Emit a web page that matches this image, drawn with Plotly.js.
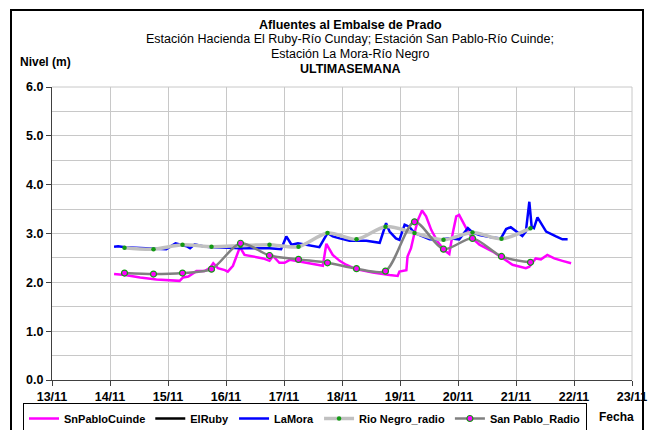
<!DOCTYPE html>
<html>
<head>
<meta charset="utf-8">
<script src="https://cdn.plot.ly/plotly-3.0.1.min.js"></script>
<style>html,body{margin:0;padding:0;background:#fff;}#chart{width:650px;height:430px;}</style>
</head>
<body>
<div id="chart"></div>
<script>
// Tick labels (days of November)
var dayVals = [13,14,15,16,17,18,19,20,21,22,23];
var dayLabels = ["13/11","14/11","15/11","16/11","17/11","18/11","19/11","20/11","21/11","22/11","23/11"];

// SnPabloCuinde (x in fractional day of month)
var cuindeX = [14.07,14.26,14.52,14.80,15.20,15.26,15.35,15.43,15.49,15.63,15.72,15.78,15.86,15.98,16.03,16.12,16.24,16.32,16.47,16.64,16.75,16.81,16.92,17.01,17.10,17.27,17.50,17.67,17.73,17.84,17.96,18.07,18.24,18.53,18.82,18.96,18.99,19.11,19.13,19.19,19.25,19.31,19.38,19.45,19.54,19.65,19.76,19.85,19.91,19.97,20.02,20.08,20.14,20.25,20.37,20.60,20.77,20.94,21.17,21.23,21.34,21.43,21.54,21.66,21.80,21.95];
var cuindeY = [2.17,2.15,2.10,2.06,2.03,2.10,2.12,2.19,2.23,2.23,2.29,2.39,2.29,2.25,2.22,2.34,2.72,2.56,2.53,2.49,2.44,2.54,2.40,2.40,2.46,2.42,2.38,2.34,2.79,2.56,2.44,2.36,2.27,2.20,2.15,2.13,2.22,2.25,2.53,2.70,3.01,3.28,3.47,3.35,3.07,2.83,2.66,2.58,3.01,3.35,3.38,3.24,3.11,2.90,2.77,2.63,2.49,2.36,2.29,2.32,2.49,2.47,2.56,2.49,2.44,2.39];

// ElRuby (no visible data in the reference)
var rubyX = [14.07];
var rubyY = [null];

// LaMora
var moraX = [14.07,14.14,14.26,14.69,14.97,15.13,15.20,15.32,15.38,15.46,15.60,15.75,16.06,16.24,16.75,16.95,17.04,17.13,17.24,17.38,17.53,17.61,17.75,17.84,17.96,18.07,18.13,18.24,18.42,18.65,18.76,18.82,18.93,18.99,19.08,19.16,19.25,19.39,19.51,19.68,19.85,20.02,20.08,20.17,20.25,20.37,20.60,20.74,20.83,20.91,21.03,21.11,21.17,21.23,21.27,21.31,21.37,21.43,21.52,21.69,21.80,21.89];
var moraY = [2.73,2.74,2.72,2.70,2.68,2.80,2.78,2.74,2.70,2.78,2.74,2.72,2.71,2.70,2.70,2.68,2.94,2.77,2.80,2.77,2.74,2.72,3.01,2.94,2.90,2.87,2.85,2.85,2.85,2.81,3.21,3.04,2.90,2.87,3.18,3.14,3.01,2.94,2.88,2.87,2.90,2.88,2.97,3.11,3.02,2.97,2.92,2.90,3.09,3.13,3.02,2.95,3.04,3.65,3.14,3.11,3.33,3.21,3.04,2.94,2.88,2.88];

// Radio readings (06:00 and 18:00)
var radioX = [14.25,14.75,15.25,15.75,16.25,16.75,17.25,17.75,18.25,18.75,19.25,19.75,20.25,20.75,21.25];
var rioNegroY = [2.71,2.68,2.77,2.73,2.75,2.77,2.73,3.01,2.88,3.14,3.01,2.87,3.02,2.89,3.11];
var sanPabloY = [2.19,2.17,2.19,2.27,2.80,2.55,2.47,2.40,2.28,2.23,3.24,2.68,2.90,2.53,2.41];

var FONT = "Arial, 'Liberation Sans', sans-serif";
var GRID = "#c8c8c8";

var traces = [
  {name:"SnPabloCuinde", x:cuindeX, y:cuindeY, mode:"lines", line:{color:"#ff00ff", width:2.5}},
  {name:"ElRuby", x:rubyX, y:rubyY, mode:"lines", line:{color:"#000000", width:2.5}},
  {name:"LaMora", x:moraX, y:moraY, mode:"lines", line:{color:"#0000ff", width:2.5}},
  {name:"Rio Negro_radio", x:radioX, y:rioNegroY, mode:"lines+markers",
   line:{color:"#c0c0c0", width:3.5, shape:"spline", smoothing:0.8},
   marker:{color:"#139a13", size:4.5, line:{width:0}}},
  {name:"San Pablo_Radio", x:radioX, y:sanPabloY, mode:"lines+markers",
   line:{color:"#808080", width:2.5, shape:"spline", smoothing:0.8},
   marker:{color:"#ff00ff", size:6, line:{color:"#139a13", width:1.2}}}
];

function px2x(p){return (p-52)/580;}
function px2y(p){return (380-p)/293;}

var layout = {
  width:650, height:430,
  margin:{l:52, r:18, t:87, b:50, autoexpand:false},
  paper_bgcolor:"#ffffff", plot_bgcolor:"#ffffff",
  font:{family:FONT, color:"#000"},
  showlegend:true,
  hovermode:false,
  xaxis:{range:[13,23], tickvals:dayVals, ticktext:dayLabels, showgrid:true, gridcolor:GRID, gridwidth:1,
         zeroline:false, showline:true, linecolor:"#404040", linewidth:1, ticks:"outside", ticklen:5, tickcolor:"#404040",
         tickfont:{family:FONT, size:12.5, weight:"bold"}, fixedrange:true, automargin:false},
  yaxis:{range:[0,6], dtick:1, tick0:0, tickformat:".1f", showgrid:true, gridcolor:GRID, gridwidth:1,
         minor:{dtick:0.5, showgrid:true, gridcolor:GRID, gridwidth:1, ticks:""},
         zeroline:false, showline:true, linecolor:"#404040", linewidth:1, ticks:"outside", ticklen:5, tickcolor:"#404040",
         tickfont:{family:FONT, size:12.5, weight:"bold"}, fixedrange:true, automargin:false},
  legend:{orientation:"h", xref:"container", yref:"container", x:23/650, xanchor:"left", y:(430-403)/430, yanchor:"top",
          bordercolor:"#000", borderwidth:1, bgcolor:"#fff",
          font:{family:FONT, size:11, weight:"bold"}, itemwidth:30, tracegroupgap:0},
  shapes:[
    {type:"line", xref:"paper", yref:"paper", x0:0, x1:1, y0:1, y1:1, line:{color:GRID, width:1}},
    {type:"line", xref:"paper", yref:"paper", x0:1, x1:1, y0:0, y1:1, line:{color:GRID, width:1}},
    {type:"rect", xref:"paper", yref:"paper", x0:px2x(11), x1:px2x(643), y0:px2y(440), y1:px2y(10), line:{color:"#000", width:2}}
  ],
  annotations:[
    {text:"<b>Afluentes al Embalse de Prado</b>", xref:"paper", yref:"paper", x:px2x(350), y:px2y(25), showarrow:false, xanchor:"center", yanchor:"middle", font:{size:12.5}},
    {text:"Estación Hacienda El Ruby-Río Cunday; Estación San Pablo-Río Cuinde;", xref:"paper", yref:"paper", x:px2x(350), y:px2y(39.5), showarrow:false, xanchor:"center", yanchor:"middle", font:{size:12.5}},
    {text:"Estación La Mora-Río Negro", xref:"paper", yref:"paper", x:px2x(350), y:px2y(54), showarrow:false, xanchor:"center", yanchor:"middle", font:{size:12.5}},
    {text:"<b>ULTIMASEMANA</b>", xref:"paper", yref:"paper", x:px2x(350), y:px2y(68.5), showarrow:false, xanchor:"center", yanchor:"middle", font:{size:12.5}},
    {text:"<b>Nivel (m)</b>", xref:"paper", yref:"paper", x:px2x(18), y:px2y(62), showarrow:false, xanchor:"left", yanchor:"middle", font:{size:12}},
    {text:"<b>Fecha</b>", xref:"paper", yref:"paper", x:px2x(597), y:px2y(417), showarrow:false, xanchor:"left", yanchor:"middle", font:{size:12}}
  ]
};

Plotly.newPlot("chart", traces, layout, {displayModeBar:false, staticPlot:true});
</script>
</body>
</html>
